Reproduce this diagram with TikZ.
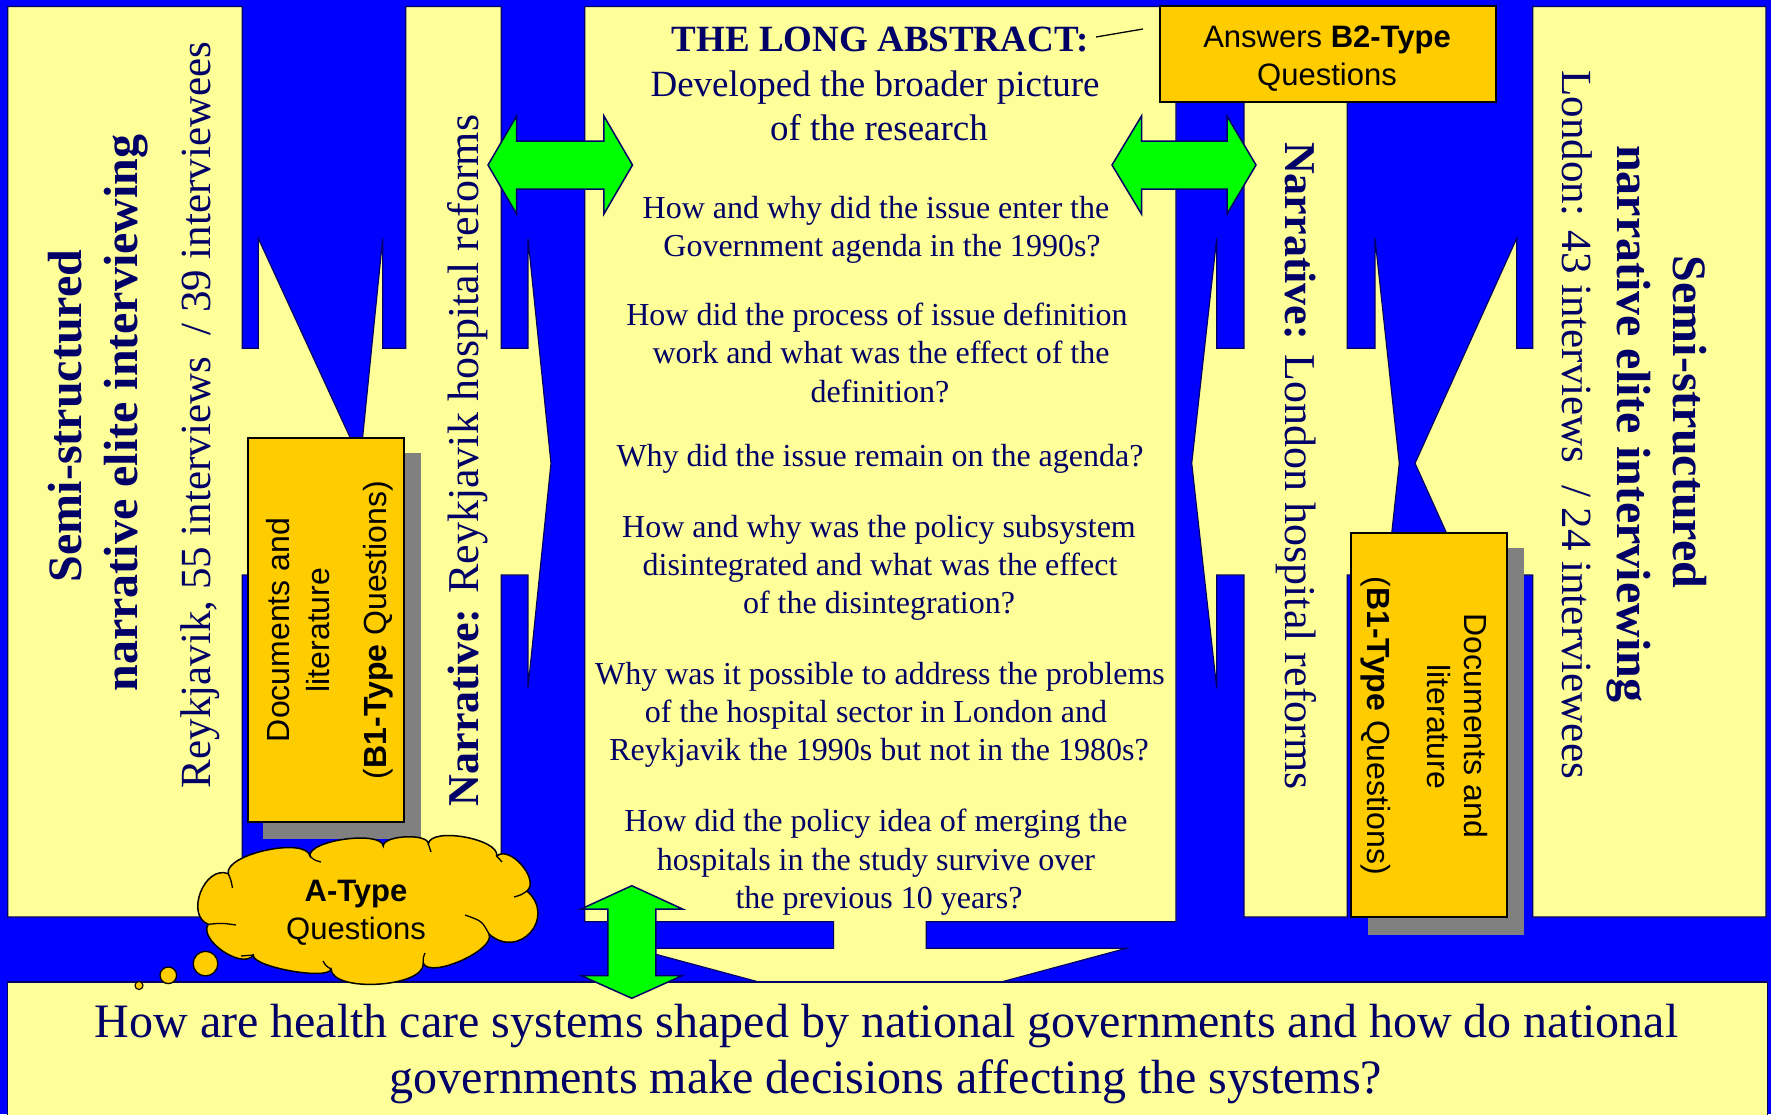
\documentclass[tikz,border=0pt]{standalone}
\usepackage{fontspec}
\setmainfont{Liberation Serif}
\setsansfont{Liberation Sans}
\definecolor{bgblue}{HTML}{0000FF}
\definecolor{panel}{HTML}{FFFF99}
\definecolor{navy}{HTML}{000066}
\definecolor{gold}{HTML}{FFCC00}
\definecolor{grn}{HTML}{00FF00}
\definecolor{shade}{HTML}{808080}
\newcommand{\fBig}{\fontsize{48}{56}\selectfont}
\newcommand{\fSub}{\fontsize{43}{50}\selectfont}
\newcommand{\fNar}{\fontsize{44}{52}\selectfont}
\newcommand{\fTitle}{\fontsize{37}{44}\selectfont}
\newcommand{\fQ}{\fontsize{32}{38}\selectfont}
\newcommand{\fBox}{\fontsize{31}{37}\selectfont}
\newcommand{\fDoc}{\fontsize{32}{38}\selectfont}
\tikzset{
  panelshape/.style={fill=panel, draw=navy, line width=1.2},
  greenarrow/.style={fill=grn, draw=navy, line width=1.5},
  goldbox/.style={fill=gold, draw=black, line width=2},
  shadowbox/.style={fill=shade},
  ntext/.style={text=navy, inner sep=0, anchor=base},
  btext/.style={text=black, inner sep=0, anchor=base, font=\sffamily},
  crease/.style={draw=black, line width=1.3},
  bubble/.style={fill=gold, draw=black, line width=1.3},
}
\begin{document}
\begin{tikzpicture}[x=1pt,y=-1pt]
\clip (0,0) rectangle (1771,1114);
\fill[bgblue] (0,0) rectangle (1771,1114);

% Panel A (left, right-arrow callout)
\draw[panelshape] (7.7,6.4) -- (242.2,6.4) -- (242.2,348.3) -- (258.3,348.3) -- (258.3,238.3)
  -- (362,463.3) -- (258.3,688.3) -- (258.3,575) -- (242.2,575) -- (242.2,917) -- (7.7,917) -- cycle;
% Panel B (left-right arrow callout)
\draw[panelshape] (405.7,6.4) -- (501.3,6.4) -- (501.3,348.3) -- (528,348.3) -- (528,238.3)
  -- (551,463.3) -- (528,688.3) -- (528,575) -- (501.3,575) -- (501.3,917) -- (405.7,917)
  -- (405.7,575) -- (382.7,575) -- (382.7,688.3) -- (360,463.3) -- (382.7,238.3) -- (382.7,348.3)
  -- (405.7,348.3) -- cycle;
% Panel C (center, down-arrow callout)
\draw[panelshape] (584.8,6.4) -- (1176,6.4) -- (1176,921.7) -- (926.2,921.7) -- (926.2,948.3)
  -- (1126.3,948.3) -- (880,1014.6) -- (633.6,948.3) -- (833.6,948.3) -- (833.6,921.7)
  -- (584.8,921.7) -- cycle;
% Panel D
\draw[panelshape] (1244,6.4) -- (1347.3,6.4) -- (1347.3,348.3) -- (1375,348.3) -- (1375,238.3)
  -- (1399.3,463.3) -- (1375,688.3) -- (1375,575) -- (1347.3,575) -- (1347.3,917) -- (1244,917)
  -- (1244,575) -- (1216.7,575) -- (1216.7,688.3) -- (1191.7,463.3) -- (1216.7,238.3)
  -- (1216.7,348.3) -- (1244,348.3) -- cycle;
% Panel E
\draw[panelshape] (1532.7,6.4) -- (1766,6.4) -- (1766,917) -- (1532.7,917) -- (1532.7,575)
  -- (1516.7,575) -- (1516.7,688.3) -- (1415,463.3) -- (1516.7,238.3) -- (1516.7,348.3)
  -- (1532.7,348.3) -- cycle;
% Bottom panel
\draw[panelshape] (7.7,1130) -- (7.7,982) -- (1767.7,982) -- (1767.7,1130);

% Panel A text
\node[ntext, rotate=90] (a1) at (81,416) {\fBig\bfseries Semi-structured};
\node[ntext, rotate=90] (a2) at (137,413) {\fBig\bfseries narrative elite interviewing};
\node[ntext, rotate=90] (a3) at (210.5,415) {\fSub Reykjavik, 55 interviews \ / 39 interviewees};
% Panel B text
\node[ntext, rotate=90] (b1) at (478,460.5) {\fNar\textbf{Narrative:} Reykjavik hospital reforms};
% Panel D text
\node[ntext, rotate=-90] (d1) at (1285,466) {\fNar\textbf{Narrative:} London hospital reforms};
% Panel E text
\node[ntext, rotate=-90] (e1) at (1673,422) {\fBig\bfseries Semi-structured};
\node[ntext, rotate=-90] (e2) at (1617,423.6) {\fBig\bfseries narrative elite interviewing};
\node[ntext, rotate=-90] (e3) at (1562,424.7) {\fSub London: 43 interviews \ / 24 interviewees};

% Center text
\node[ntext] (t1) at (880,51.7) {\fTitle\bfseries THE LONG ABSTRACT:};
\node[ntext] (t2) at (875,96.7) {\fTitle Developed the broader picture};
\node[ntext] (t3) at (879,140) {\fTitle of the research};
\node[ntext] (q1a) at (876,218) {\fQ How and why did the issue enter the};
\node[ntext] (q1b) at (882,256.5) {\fQ Government agenda in the 1990s?};
\node[ntext] (q2a) at (877,325) {\fQ How did the process of issue definition};
\node[ntext] (q2b) at (881,363.5) {\fQ work and what was the effect of the};
\node[ntext] (q2c) at (880,402) {\fQ definition?};
\node[ntext] (q3a) at (880,466) {\fQ Why did the issue remain on the agenda?};
\node[ntext] (q4a) at (879,537) {\fQ How and why was the policy subsystem};
\node[ntext] (q4b) at (880,575) {\fQ disintegrated and what was the effect};
\node[ntext] (q4c) at (879,613) {\fQ of the disintegration?};
\node[ntext] (q5a) at (880,684.5) {\fQ Why was it possible to address the problems};
\node[ntext] (q5b) at (876,722) {\fQ of the hospital sector in London and};
\node[ntext] (q5c) at (879,760) {\fQ Reykjavik the 1990s but not in the 1980s?};
\node[ntext] (q6a) at (876,831) {\fQ How did the policy idea of merging the};
\node[ntext] (q6b) at (876,870) {\fQ hospitals in the study survive over};
\node[ntext] (q6c) at (879,908) {\fQ the previous 10 years?};

% Bottom text
\node[ntext] (m1) at (886.5,1037.5) {\fBig How are health care systems shaped by national governments and how do national};
\node[ntext] (m2) at (886,1093) {\fBig governments make decisions affecting the systems?};

% Documents boxes
\fill[shadowbox] (263,453) rectangle (421,839);
\draw[goldbox] (248,437.5) rectangle (403.7,822);
\node[btext, rotate=90] (dl1) at (289.7,630) {\fDoc Documents and};
\node[btext, rotate=90] (dl2) at (329,630) {\fDoc literature};
\node[btext, rotate=90] (dl3) at (386.5,630) {\fDoc (\textbf{B1-Type} Questions)};
\fill[shadowbox] (1368,548.3) rectangle (1524,934.6);
\draw[goldbox] (1350.7,533.3) rectangle (1506.7,917);
\node[btext, rotate=-90] (dr1) at (1464.8,725.8) {\fDoc Documents and};
\node[btext, rotate=-90] (dr2) at (1427,726.8) {\fDoc literature};
\node[btext, rotate=-90] (dr3) at (1367,725.7) {\fDoc (\textbf{B1-Type} Questions)};

% B2 box
\draw[goldbox] (1159.9,6.4) rectangle (1495.7,101.8);
\node[btext] (bb1) at (1327,47.4) {\fBox Answers \textbf{B2-Type}};
\node[btext] (bb2) at (1327,85.8) {\fBox Questions};
\coordinate (la) at (1096,37);
\coordinate (lb) at (1143,29);
\draw[black, line width=1.3] (la) -- (lb);

% Green arrows
\draw[greenarrow] (488,165) -- (516.6,116) -- (516.6,141) -- (603.9,141) -- (603.9,116) -- (632.5,165)
  -- (603.9,214) -- (603.9,189) -- (516.6,189) -- (516.6,214) -- cycle;
\draw[greenarrow] (1112,165) -- (1141.5,116) -- (1141.5,141) -- (1227,141) -- (1227,116) -- (1256,165)
  -- (1227,214) -- (1227,189) -- (1141.5,189) -- (1141.5,214) -- cycle;
\draw[greenarrow] (631.8,885.7) -- (682.5,909) -- (655.8,909) -- (655.8,975.5) -- (682.5,975.5)
  -- (631.8,998.3) -- (581,975.5) -- (607.8,975.5) -- (607.8,909) -- (581,909) -- cycle;

% Cloud (thought bubble)
\draw[fill=gold, draw=black, line width=1.5] (228.3,873.7)
  .. controls (224.1,854.2) and (305.8,836.5) .. (310,856)
  .. controls (307.8,840.2) and (381.1,830.2) .. (383.3,846)
  .. controls (382.8,835.3) and (427.8,833) .. (428.3,843.7)
  .. controls (431.4,826.6) and (499.8,839) .. (496.7,856)
  .. controls (509.8,844.7) and (540.1,879.7) .. (527,891)
  .. controls (557,917.5) and (519,960.5) .. (489,934)
  .. controls (496,949.8) and (430.3,979.1) .. (423.3,963.3)
  .. controls (424.8,987.3) and (332.5,993) .. (331,969)
  .. controls (328.9,980.8) and (251.2,966.8) .. (253.3,955)
  .. controls (242.8,970.4) and (197.8,939.7) .. (208.3,924.3)
  .. controls (184.7,915) and (204.7,864.4) .. (228.3,873.7) -- cycle;
\draw[crease] (228.3,873.7) .. controls (231,880) .. (232.5,888);
\draw[crease] (310,856) .. controls (314,860) .. (321,862);
\draw[crease] (428.3,843.7) .. controls (430,848) .. (431,852);
\draw[crease] (496.7,856) .. controls (499,859) .. (502,862);
\draw[crease] (527,891) .. controls (521,895) .. (514,897);
\draw[crease] (489,934) .. controls (482,921) .. (465,915);
\draw[crease] (423.3,963.3) .. controls (423,958) .. (425,953);
\draw[crease] (331,969) .. controls (326,966) .. (323,961);
\draw[crease] (253.3,955) .. controls (247,956) .. (241,956);
\draw[crease] (208.3,924.3) .. controls (222,923) .. (236,925);
\node[btext] (c1) at (356,901) {\fBox\bfseries A-Type};
\node[btext] (c2) at (356,939) {\fBox Questions};
\draw[bubble] (205.5,963.6) circle[radius=12.3];
\draw[bubble] (168.3,975.3) circle[radius=8.3];
\draw[bubble, line width=1.1] (139,985.5) circle[radius=4];
\end{tikzpicture}
\end{document}
